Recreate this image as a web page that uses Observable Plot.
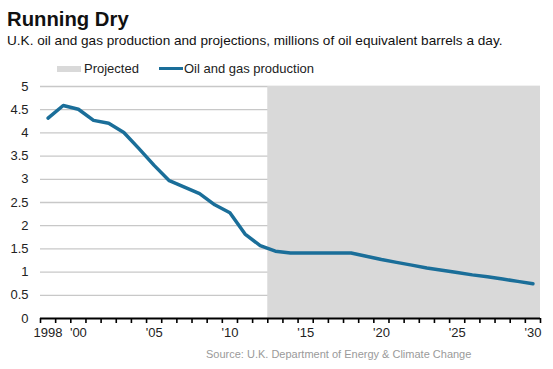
<!DOCTYPE html>
<html><head><meta charset="utf-8">
<script src="https://cdn.jsdelivr.net/npm/d3@7"></script>
<script src="https://cdn.jsdelivr.net/npm/@observablehq/plot@0.6"></script>
<style>
body{margin:0;background:#fff;font-family:"Liberation Sans",Arial,sans-serif;}
#wrap{position:relative;width:553px;height:369px;overflow:hidden}
.abs{position:absolute;white-space:nowrap;line-height:normal}
.sw{display:inline-block;vertical-align:middle}
</style></head><body>
<div id="wrap">
  <div class="abs" style="left:7px;top:8px;font-size:20.3px;font-weight:bold;color:#111">Running Dry</div>
  <div class="abs" style="left:7px;top:33px;font-size:13.6px;color:#111">U.K. oil and gas production and projections, millions of oil equivalent barrels a day.</div>
  <div class="abs" id="legend" style="left:57px;top:60px;font-size:13px;color:#222"></div>
  <div class="abs" id="chart" style="left:0;top:78px"></div>
  <div class="abs" style="left:206px;top:348px;font-size:11px;color:#9a9a9a">Source: U.K. Department of Energy &amp; Climate Change</div>
</div>
<script>
// data
const years = [1998,1999,2000,2001,2002,2003,2004,2005,2006,2007,2008,2009,2010,2011,2012,2013,2014,2015,2016,2017,2018,2019,2020,2021,2022,2023,2024,2025,2026,2027,2028,2029,2030];
const production = [4.32,4.59,4.51,4.27,4.21,4.01,3.66,3.30,2.97,2.83,2.69,2.45,2.28,1.82,1.57,1.45,1.41,1.41,1.41,1.41,1.41,1.34,1.27,1.21,1.15,1.09,1.04,0.99,0.94,0.90,0.85,0.80,0.75];
const projectedStart = 2013;
const projectedEnd = 2031;
const labelYears = [1998,2000,2005,2010,2015,2020,2025,2030];
const labelText = ["1998","'00","'05","'10","'15","'20","'25","'30"];
const yTicks = [0,0.5,1,1.5,2,2.5,3,3.5,4,4.5,5];
const seriesNames = ["Projected","Oil and gas production"];

const lineColor = "#1a6e99";
const shadeColor = "#d9d9d9";

const data = years.map((y,i)=>({year:y, value:production[i]}));
const tickYears = d3.range(1998, 2032);
const labelMap = new Map(labelYears.map((y,i)=>[y+0.5, labelText[i]]));

const legend = document.getElementById("legend");
legend.innerHTML =
  `<span class="sw" style="width:24px;height:6px;background:${shadeColor}"></span>` +
  `<span style="margin-left:3px;vertical-align:middle">${seriesNames[0]}</span>` +
  `<span class="sw" style="margin-left:20px;width:24px;height:3px;background:${lineColor}"></span>` +
  `<span style="margin-left:1px;vertical-align:middle">${seriesNames[1]}</span>`;

const chart = Plot.plot({
  width: 553,
  height: 264,
  marginTop: 8,
  marginBottom: 24,
  marginLeft: 40,
  marginRight: 13,
  style: {fontFamily: '"Liberation Sans", Arial, sans-serif', fontSize: "13px", color: "#222", background: "#fff"},
  x: {domain: [1998, 2031]},
  y: {domain: [0, 5]},
  marks: [
    Plot.ruleY(yTicks.filter(d => d > 0), {stroke: "#c8c8c8", strokeWidth: 1.3}),
    Plot.rectY([{x1: projectedStart, x2: projectedEnd}], {x1: "x1", x2: "x2", y1: 0, y2: 5, fill: shadeColor}),
    Plot.axisY({ticks: yTicks, tickSize: 0, tickPadding: 12, tickFormat: d => String(d), label: null}),
    Plot.axisX({ticks: tickYears, tickSize: 5, tickFormat: () => "", label: null, strokeWidth: 1.6, stroke: "#000"}),
    Plot.axisX({ticks: [...labelMap.keys()], tickSize: 0, tickPadding: 9, tickFormat: d => labelMap.get(d), label: null}),
    Plot.ruleY([0], {stroke: "#000", strokeWidth: 2}),
    Plot.line(data, {x: d => d.year + 0.5, y: "value", stroke: lineColor, strokeWidth: 3.5, strokeLinejoin: "round"})
  ]
});
document.getElementById("chart").appendChild(chart);
</script>
</body></html>
